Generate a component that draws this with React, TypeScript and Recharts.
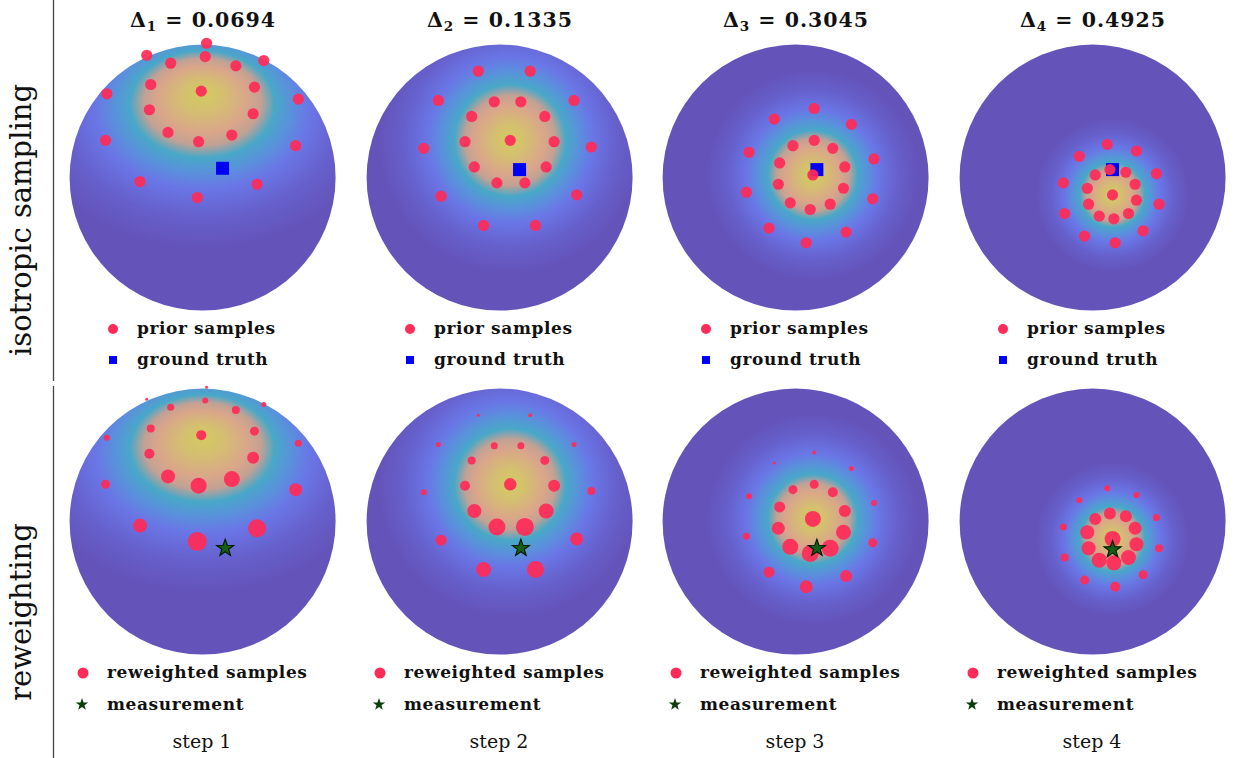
import React from 'react';
import { ScatterChart, Scatter, XAxis, YAxis, ReferenceArea } from 'recharts';

// ---------------- data ----------------
const DELTA_VALUES = ['0.0694', '0.1335', '0.3045', '0.4925'];
const STEP_LABELS = ['step 1', 'step 2', 'step 3', 'step 4'];
const ROW_LABELS = ['isotropic sampling', 'reweighting'];
const LEGEND_TOP = ['prior samples', 'ground truth'];
const LEGEND_BOTTOM = ['reweighted samples', 'measurement'];

// prior samples (normalised sphere coordinates, x right, y up)
const PRIOR_1: [number, number][] = [
  [0.03, 1.01], [-0.42, 0.92], [0.02, 0.91], [0.46, 0.88], [-0.24, 0.86], [0.25, 0.84],
  [-0.39, 0.7], [0.39, 0.68], [-0.01, 0.65], [-0.72, 0.63], [0.72, 0.59], [-0.4, 0.51],
  [0.38, 0.48], [-0.26, 0.34], [0.22, 0.32], [-0.03, 0.27], [-0.73, 0.28], [0.7, 0.24],
  [-0.47, -0.03], [0.41, -0.05], [-0.04, -0.15],
];
const PRIOR_2: [number, number][] = [
  [-0.16, 0.8], [0.23, 0.8], [-0.46, 0.58], [-0.04, 0.57], [0.16, 0.57], [0.56, 0.58],
  [-0.21, 0.46], [0.34, 0.46], [-0.26, 0.27], [0.08, 0.28], [0.41, 0.27], [-0.57, 0.22],
  [0.69, 0.23], [-0.19, 0.08], [0.35, 0.08], [-0.02, -0.04], [0.19, -0.04], [-0.44, -0.14],
  [0.58, -0.13], [-0.12, -0.36], [0.27, -0.36],
];
const PRIOR_3: [number, number][] = [
  [0.14, 0.52], [-0.16, 0.44], [0.42, 0.4], [0.14, 0.28], [-0.02, 0.24], [0.28, 0.22],
  [-0.35, 0.19], [0.59, 0.14], [-0.12, 0.11], [0.37, 0.08], [0.13, 0.02], [-0.13, -0.05],
  [0.36, -0.08], [-0.37, -0.11], [0.58, -0.16], [-0.04, -0.19], [0.26, -0.2], [0.11, -0.24],
  [-0.2, -0.38], [0.38, -0.41], [0.08, -0.49],
];
const PRIOR_4: [number, number][] = [
  [0.11, 0.25], [-0.1, 0.16], [0.33, 0.2], [0.13, 0.06], [0.02, 0.02], [0.25, 0.04],
  [-0.22, -0.04], [0.48, 0.03], [-0.04, -0.08], [0.32, -0.05], [0.15, -0.13], [-0.03, -0.2],
  [0.33, -0.17], [-0.21, -0.27], [0.5, -0.2], [0.05, -0.29], [0.27, -0.27], [0.16, -0.31],
  [-0.06, -0.44], [0.38, -0.4], [0.17, -0.49],
];

// importance weights of the same samples after reweighting
const WEIGHTS_1 = [0.09, 0.09, 0.36, 0.25, 0.49, 0.64, 0.64, 0.81, 1.0, 0.36, 0.49, 1.0, 1.44, 1.96, 2.56, 2.56, 0.81, 1.69, 1.96, 3.24, 3.61];
const WEIGHTS_2 = [0.09, 0.16, 0.25, 0.49, 0.49, 0.25, 0.64, 0.81, 1.0, 1.56, 1.44, 0.36, 0.64, 1.96, 2.25, 2.89, 3.24, 1.21, 1.69, 2.25, 2.89];
const WEIGHTS_3 = [0.16, 0.09, 0.25, 0.81, 0.81, 1.0, 0.36, 0.36, 1.21, 1.44, 2.56, 1.69, 2.25, 0.49, 0.81, 2.56, 2.89, 2.89, 1.21, 1.44, 1.69];
const WEIGHTS_4 = [0.36, 0.36, 0.36, 1.44, 1.44, 1.44, 0.49, 0.49, 1.96, 1.69, 2.56, 1.96, 1.96, 0.64, 0.64, 2.25, 2.25, 2.25, 0.81, 0.81, 1.0];

const GROUND_TRUTH: [number, number][] = [[0.15, 0.07], [0.15, 0.06], [0.16, 0.06], [0.15, 0.06]];
const MEASUREMENT: [number, number][] = [[0.17, -0.2], [0.16, -0.2], [0.16, -0.2], [0.15, -0.21]];

// prior density: peak (sphere coords), spread (sphere radii),
// foreshortening shift of the density ellipse below the peak, and horizontal stretch
const DENSITY_PEAK: [number, number][] = [[0.0, 0.64], [0.08, 0.28], [0.13, 0.02], [0.15, -0.13]];
const DENSITY_SPREAD = [0.96, 1.0, 0.8, 0.58];
const DENSITY_SHIFT = [0.21, 0.0, 0.0, 0.0];
const DENSITY_STRETCH = [1.35, 1.0, 1.0, 1.0];

const PRIORS = [PRIOR_1, PRIOR_2, PRIOR_3, PRIOR_4];
const WEIGHTS = [WEIGHTS_1, WEIGHTS_2, WEIGHTS_3, WEIGHTS_4];

// ---------------- layout / style ----------------
const W = 1236;
const H = 758;
const PANEL_CX = [203, 500, 796, 1093];
const ROW_CY = [177.5, 521.5];
const R = 133;
const DOM = 1.2;
const SIZE = 2 * R * DOM;
const FONT = "'DejaVu Serif', serif";
const DOT = '#ff2b58';
const STOPS: [number, string][] = [
  [0, '#d3cc60'],
  [0.12, '#d4bf70'],
  [0.26, '#daa68a'],
  [0.34, '#c2a194'],
  [0.42, '#48a8c8'],
  [0.52, '#5a90dc'],
  [0.62, '#6a76e6'],
  [0.8, '#6660cc'],
  [1, '#6453b9'],
];

function starPath(cx: number, cy: number, ro: number, ri: number) {
  let d = '';
  for (let i = 0; i < 10; i++) {
    const a = -Math.PI / 2 + (i * Math.PI) / 5;
    const rr = i % 2 === 0 ? ro : ri;
    d += (i ? 'L' : 'M') + (cx + rr * Math.cos(a)).toFixed(2) + ',' + (cy + rr * Math.sin(a)).toFixed(2);
  }
  return d + 'Z';
}

const makeSphere = (row: number, col: number) => (p: any) => {
  const { x, y, width, height } = p;
  if (x == null || width == null) return <g />;
  const r = width / 2;
  const cx = x + r;
  const cy = y + height / 2;
  const [gx, gy] = DENSITY_PEAK[col];
  const fx = cx + gx * r;
  const fy = cy - gy * r;
  const gcx = fx;
  const gcy = fy + DENSITY_SHIFT[col] * r;
  const gr = DENSITY_SPREAD[col] * r;
  const sx = DENSITY_STRETCH[col];
  const id = `dens-${row}-${col}`;
  return (
    <g>
      <defs>
        <radialGradient
          id={id}
          gradientUnits="userSpaceOnUse"
          cx={gcx}
          cy={gcy}
          r={gr}
          fx={fx}
          fy={fy}
          gradientTransform={`translate(${gcx} ${gcy}) scale(${sx} 1) translate(${-gcx} ${-gcy})`}
        >
          {STOPS.map(([o, c]) => (
            <stop key={o} offset={o} stopColor={c} />
          ))}
        </radialGradient>
      </defs>
      <circle cx={cx} cy={cy} r={r} fill={`url(#${id})`} />
    </g>
  );
};

const priorDot = (p: any) => <circle cx={p.cx} cy={p.cy} r={5.6} fill={DOT} fillOpacity={0.93} />;
const weightedDot = (p: any) => (
  <circle cx={p.cx} cy={p.cy} r={5 * Math.sqrt(p.payload.w)} fill={DOT} fillOpacity={0.93} />
);
const truthSquare = (p: any) => <rect x={p.cx - 6.5} y={p.cy - 6.5} width={13} height={13} fill="#0000f5" />;
const measStar = (p: any) => (
  <path d={starPath(p.cx, p.cy, 9, 3.6)} fill="#155f15" stroke="#001800" strokeWidth={1.1} />
);

function Panel({ row, col }: { row: number; col: number }) {
  const samples = PRIORS[col].map(([x, y], i) => ({ x, y, w: WEIGHTS[col][i] }));
  const marker =
    row === 0
      ? [{ x: GROUND_TRUTH[col][0], y: GROUND_TRUTH[col][1] }]
      : [{ x: MEASUREMENT[col][0], y: MEASUREMENT[col][1] }];
  return (
    <div style={{ position: 'absolute', left: PANEL_CX[col] - SIZE / 2, top: ROW_CY[row] - SIZE / 2 }}>
      <ScatterChart width={SIZE} height={SIZE} margin={{ top: 0, right: 0, bottom: 0, left: 0 }}>
        <XAxis type="number" dataKey="x" domain={[-DOM, DOM]} hide />
        <YAxis type="number" dataKey="y" domain={[-DOM, DOM]} hide />
        <ReferenceArea x1={-1} x2={1} y1={-1} y2={1} shape={makeSphere(row, col)} />
        {row === 0 && <Scatter data={marker} shape={truthSquare} isAnimationActive={false} />}
        <Scatter data={samples} shape={row === 0 ? priorDot : weightedDot} isAnimationActive={false} />
        {row === 1 && <Scatter data={marker} shape={measStar} isAnimationActive={false} />}
      </ScatterChart>
    </div>
  );
}

function Overlay() {
  const legendText = { fontSize: 17, fontWeight: 'bold' as const, fill: '#111', letterSpacing: 0.6 };
  return (
    <svg
      width={W}
      height={H}
      style={{ position: 'absolute', left: 0, top: 0, pointerEvents: 'none' }}
      fontFamily={FONT}
    >
      <line x1={53.5} y1={0} x2={53.5} y2={381} stroke="#444" strokeWidth={1.3} />
      <line x1={53.5} y1={386} x2={53.5} y2={758} stroke="#444" strokeWidth={1.3} />
      <text x={31} y={220} transform="rotate(-90 31 220)" textAnchor="middle" fontSize={29} fill="#111">
        {ROW_LABELS[0]}
      </text>
      <text x={31} y={612} transform="rotate(-90 31 612)" textAnchor="middle" fontSize={29} fill="#111">
        {ROW_LABELS[1]}
      </text>
      {PANEL_CX.map((cx, i) => (
        <g key={i}>
          <text x={cx} y={27} textAnchor="middle" fontSize={20.5} fontWeight="bold" fill="#111" letterSpacing={1}>
            Δ
            <tspan fontSize={13.5} dy={4}>
              {i + 1}
            </tspan>
            <tspan dy={-4}>{' = ' + DELTA_VALUES[i]}</tspan>
          </text>
          {/* top legend */}
          <circle cx={cx - 90} cy={329} r={5} fill={DOT} />
          <text x={cx - 66} y={334} {...legendText}>
            {LEGEND_TOP[0]}
          </text>
          <rect x={cx - 94} y={356} width={8} height={8} fill="#0000f5" />
          <text x={cx - 66} y={365} {...legendText}>
            {LEGEND_TOP[1]}
          </text>
          {/* bottom legend */}
          <circle cx={cx - 120} cy={673} r={5.5} fill={DOT} />
          <text x={cx - 96} y={678} {...legendText}>
            {LEGEND_BOTTOM[0]}
          </text>
          <path d={starPath(cx - 121, 704.5, 6.5, 2.6)} fill="#0a3d0a" />
          <text x={cx - 96} y={710} {...legendText}>
            {LEGEND_BOTTOM[1]}
          </text>
          <text x={cx - 1} y={748} textAnchor="middle" fontSize={19} fill="#111">
            {STEP_LABELS[i]}
          </text>
        </g>
      ))}
    </svg>
  );
}

export default function App() {
  return (
    <div
      style={{
        position: 'absolute',
        left: 0,
        top: 0,
        width: W,
        height: H,
        background: '#fff',
        overflow: 'hidden',
      }}
    >
      {[0, 1].map((row) => [0, 1, 2, 3].map((col) => <Panel key={`${row}-${col}`} row={row} col={col} />))}
      <Overlay />
    </div>
  );
}
